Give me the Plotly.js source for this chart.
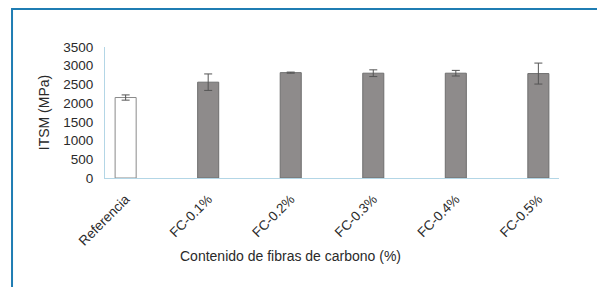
<!DOCTYPE html>
<html>
<head>
<meta charset="utf-8">
<script src="https://cdn.plot.ly/plotly-3.0.1.min.js"></script>
<style>
html,body{margin:0;padding:0;background:#fff;}
#chart{width:597px;height:287px;}
</style>
</head>
<body>
<div id="chart"></div>
<script>
// Data
const categories = ["Referencia", "FC-0.1%", "FC-0.2%", "FC-0.3%", "FC-0.4%", "FC-0.5%"];
const itsmValues = [2150, 2560, 2815, 2800, 2800, 2790];
const itsmErrors = [70, 220, 15, 90, 75, 280];
const yTickValues = [0, 500, 1000, 1500, 2000, 2500, 3000, 3500];
const xAxisTitle = "Contenido de fibras de carbono (%)";
const yAxisTitle = "ITSM (MPa)";

const fillColors = categories.map((c, i) => i === 0 ? "#ffffff" : "#8e8b8b");
const lineColors = categories.map((c, i) => i === 0 ? "#8a8a8a" : "#6e6e6e");

const FONT = "Liberation Sans, Arial, sans-serif";

const trace = {
  type: "bar",
  x: categories,
  y: itsmValues,
  width: 0.255,
  marker: {color: fillColors, line: {color: lineColors, width: 1}},
  error_y: {type: "data", array: itsmErrors, visible: true, color: "#555555", thickness: 1, width: 4},
  hoverinfo: "x+y"
};

const layout = {
  width: 597, height: 287,
  margin: {l: 105, r: 38, t: 47, b: 109, pad: 0},
  paper_bgcolor: "#ffffff",
  plot_bgcolor: "#ffffff",
  showlegend: false,
  font: {family: FONT, size: 13.5, color: "#2a2a2a"},
  xaxis: {
    type: "category",
    range: [-0.25, 5.25],
    showgrid: false, zeroline: false,
    showline: true, linecolor: "#b3d6e6", linewidth: 1,
    ticks: "", tickangle: -45,
    ticklabelstandoff: 7,
    tickfont: {family: FONT, size: 13.5, color: "#2a2a2a"},
    fixedrange: true
  },
  yaxis: {
    range: [0, 3500],
    tickvals: yTickValues,
    showgrid: false, zeroline: false,
    showline: true, linecolor: "#b3d6e6", linewidth: 1,
    ticks: "", ticklabelstandoff: 8,
    tickfont: {family: FONT, size: 13.5, color: "#2a2a2a"},
    title: {text: yAxisTitle, font: {family: FONT, size: 14, color: "#2a2a2a"}, standoff: 10},
    fixedrange: true
  },
  annotations: [{
    text: xAxisTitle, xref: "paper", yref: "paper",
    x: 0.4075, y: -0.595, xanchor: "center", yanchor: "middle",
    showarrow: false, font: {family: FONT, size: 14, color: "#2a2a2a"}
  }],
  shapes: [
    {type: "line", xref: "paper", yref: "paper", x0: -0.2048, x1: 1.09, y0: 1.29, y1: 1.29,
     line: {color: "#1f7db3", width: 2}},
    {type: "line", xref: "paper", yref: "paper", x0: -0.2048, x1: -0.2048, y0: 1.297, y1: -0.85,
     line: {color: "#1f7db3", width: 2}}
  ]
};

Plotly.newPlot("chart", [trace], layout, {displayModeBar: false, staticPlot: true});
</script>
</body>
</html>
